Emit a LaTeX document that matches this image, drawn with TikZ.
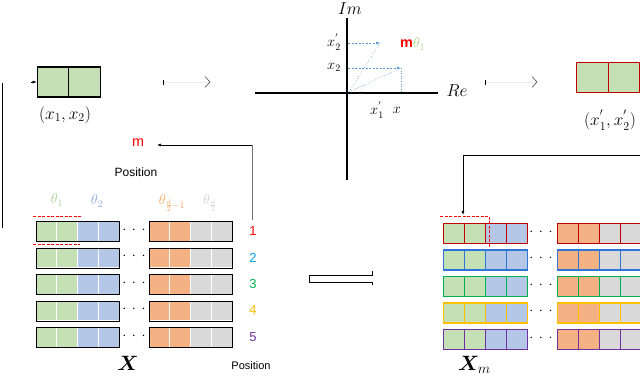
\documentclass[tikz,border=0pt]{standalone}
\usepackage{fontspec}
\newfontfamily\labsf{Liberation Sans}
\usepackage{amsmath,bm}
\usetikzlibrary{arrows.meta}
\definecolor{cg}{HTML}{C5E0B4}
\definecolor{cb}{HTML}{B4C7E7}
\definecolor{co}{HTML}{F4B183}
\definecolor{cy}{HTML}{D9D9D9}
\definecolor{cr}{HTML}{C00000}
\definecolor{cbl}{HTML}{2E75D6}
\definecolor{cgr}{HTML}{00B050}
\definecolor{cyl}{HTML}{FFC000}
\definecolor{cpu}{HTML}{7030A0}
\definecolor{axblue}{HTML}{5B9BD5}
\definecolor{pos1}{HTML}{FF0000}
\definecolor{pos2}{HTML}{00A0F0}
\definecolor{pos3}{HTML}{00B050}
\definecolor{pos4}{HTML}{FFC000}
\definecolor{pos5}{HTML}{7030A0}
\definecolor{thg}{HTML}{A9D18E}
\definecolor{thb}{HTML}{8FAADC}
\definecolor{tho}{HTML}{F4A460}
\definecolor{thy}{HTML}{CFCFCF}
\tikzset{
  grp/.style={draw, line width=1.1pt, minimum width=83pt, minimum height=20pt, inner sep=0pt, anchor=north west},
  pair/.style={draw, line width=1.2pt, minimum width=31.5pt, minimum height=30pt, inner sep=0pt, fill=cg},
  lab/.style={inner sep=0pt},
  arr/.style={-{Latex[length=4pt,width=3pt]}},
  reddash/.style={draw=red, dash pattern=on 3pt off 1.5pt, line width=1pt},
  bluedash/.style={color=axblue, dash pattern=on 2pt off 1.5pt, line width=0.6pt},
  bluedot/.style={color=axblue, dotted, line width=0.6pt},
  dots/.style={inner sep=0pt, font=\Large},
  num/.style={inner sep=0pt, font=\labsf\fontsize{13}{15}\selectfont}
}
\begin{document}
\begin{tikzpicture}[x=1pt,y=-1pt,font=\labsf]
\useasboundingbox (0,0) rectangle (640,375);

% ---------- top-left pair
\node[pair] (p1) at (53,82) {};
\node[pair] (p2) at (84.5,82) {};
\node[lab,font=\LARGE] (plab) at (65,115) {$(x_1,x_2)$};
\draw[line width=0.6pt] (2,228) -- (2,83);
\coordinate (pin) at (31,82);
\draw[arr] (pin) -- (p1.west);

% faint arrow to the axes
\coordinate (a1s) at (163,82);
\coordinate (a1e) at (210,82);
\draw[black!8] (a1s) -- (a1e);
\draw[line width=0.6pt] (163,79.5) -- (163,84.5);
\draw[line width=0.6pt,black!70] (205,76.5) -- (a1e) -- (205,87.5);

% ---------- complex plane
\coordinate (O) at (347,93);
\draw[line width=1.1pt] (255,93) -- (438,93);
\draw[line width=1.1pt] (347,18) -- (347,180);
\node[lab,font=\LARGE] (im) at (350,9) {$Im$};
\node[lab,font=\LARGE] (re) at (457,91) {$Re$};
\coordinate (P1) at (401,68);
\coordinate (P2) at (380,43);
\draw[bluedash,arr] (348,68) -- (P1);
\draw[bluedash,arr] (348,43) -- (P2);
\draw[bluedot] (P1) -- (401,93);
\draw[bluedot] (349,92) -- (P1);
\draw[bluedot] (349,92) -- (P2);
\draw[bluedot] (362,86) arc (-10:40:10);
\node[lab,font=\Large] (x2p) at (334,42) {$x_2^{'}$};
\node[lab,font=\Large] (x2) at (334,67) {$x_2$};
\node[lab,font=\Large] (x1p) at (377,110) {$x_1^{'}$};
\node[lab,font=\Large] (x1) at (397,110) {$x$};
\node[lab,anchor=west,font=\labsf\Large] (mth) at (400,44) {\textcolor{red}{\textbf{m}}\textcolor{thg}{$\theta_1$}};

% faint arrow to right pair
\coordinate (a2s) at (485,82);
\coordinate (a2e) at (537,82);
\draw[black!8] (a2s) -- (a2e);
\draw[line width=0.6pt] (485,79.5) -- (485,84.5);
\draw[line width=0.6pt,black!70] (532,76.5) -- (a2e) -- (532,87.5);

% ---------- top-right pair
\node[pair,draw=cr] (q1) at (592.5,77.5) {};
\node[pair,draw=cr] (q2) at (624,77.5) {};
\node[lab,font=\LARGE] (qlab) at (610,120) {$(x_1^{'},x_2^{'})$};

% ---------- position m arrow
\node[lab,text=red,font=\labsf\Large] (m) at (138,143) {m};
\node[lab,font=\labsf\large] (pos1t) at (136,172) {Position};
\coordinate (mc) at (252,145);
\coordinate (mstart) at (252,220);
\coordinate (mtip) at (157,145);
\draw[black!55,line width=0.6pt] (mstart) -- (mc);
\draw[arr,line width=0.6pt] (mc) -- (mtip);

% ---------- left matrix X
\foreach \r in {1,...,5}{
  \pgfmathsetmacro\t{221+(\r-1)*26.5}
  \foreach \c/\col in {0/cg,1/cg,2/cb,3/cb}{
    \filldraw[fill=\col,draw=white,line width=0.6pt] ({36+\c*20.75},\t) rectangle ++(20.75,20);}
  \foreach \c/\col in {0/co,1/co,2/cy,3/cy}{
    \filldraw[fill=\col,draw=white,line width=0.6pt] ({149+\c*20.75},\t) rectangle ++(20.75,20);}
  \node[grp] (La\r) at (36,\t) {};
  \node[grp] (Lb\r) at (149,\t) {};
  \node[dots] (Ld\r) at (134,\t+9) {$\cdot\,\cdot\,\cdot$};
}
\node[lab,text=thg,font=\Large] (th1) at (57,200) {$\theta_1$};
\node[lab,text=thb,font=\Large] (th2) at (97,201) {$\theta_2$};
\node[lab,text=tho,font=\Large] (th3) at (172,203) {$\theta_{\frac{d}{2}-1}$};
\node[lab,text=thy,font=\Large] (th4) at (210,203) {$\theta_{\frac{d}{2}}$};
\draw[reddash] (33,216.5) -- (81,216.5);
\draw[reddash] (33,244.5) -- (80,244.5);
\node[num,text=pos1] (n1) at (253,231) {1};
\node[num,text=pos2] (n2) at (253,257.5) {2};
\node[num,text=pos3] (n3) at (253,284) {3};
\node[num,text=pos4] (n4) at (253,310.5) {4};
\node[num,text=pos5] (n5) at (253,337) {5};
\node[lab,font=\huge,anchor=base] (X) at (128,370) {$\bm{X}$};
\node[lab,font=\labsf\fontsize{11}{13}\selectfont] (pos2t) at (251,366) {Position};

% ---------- middle bracket
\draw[line width=0.7pt] (372,271) -- (372,275) -- (309,275) -- (309,282) -- (372,282) -- (372,285);

% ---------- right matrix X_m
\foreach \r/\rc in {1/cr,2/cbl,3/cgr,4/cyl,5/cpu}{
  \pgfmathsetmacro\t{223+(\r-1)*26.5}
  \foreach \c/\col in {0/cg,1/cg,2/cb,3/cb}{
    \filldraw[fill=\col,draw=\rc,line width=0.9pt] ({443+\c*21},\t) rectangle ++(21,20);}
  \foreach \c/\col in {0/co,1/co,2/cy,3/cy}{
    \filldraw[fill=\col,draw=\rc,line width=0.9pt] ({557+\c*21},\t) rectangle ++(21,20);}
  \node[grp,draw=\rc,minimum width=84pt] (Ra\r) at (443,\t) {};
  \node[grp,draw=\rc,minimum width=84pt] (Rb\r) at (557,\t) {};
  \node[dots] (Rd\r) at (541,\t+9) {$\cdot\,\cdot\,\cdot$};
}
\draw[reddash] (440,216.5) -- (489.5,216.5) -- (489.5,247);
\coordinate (rin) at (641,155);
\coordinate (rc) at (463,155);
\coordinate (rend) at (463,215);
\draw[arr,line width=0.6pt] (rin) -- (rc) -- (rend);
\node[lab,font=\huge,anchor=base west] (Xm) at (458,370) {$\bm{X}_{m}$};
\end{tikzpicture}
\end{document}
